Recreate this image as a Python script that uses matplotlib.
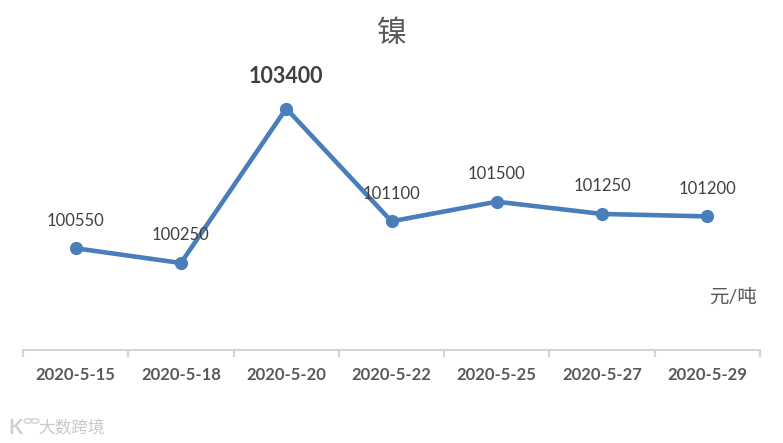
import matplotlib
matplotlib.use('Agg')
import matplotlib.pyplot as plt
from matplotlib.patches import Circle

dates = ['2020-5-15', '2020-5-18', '2020-5-20', '2020-5-22', '2020-5-25', '2020-5-27', '2020-5-29']
prices = [100550, 100250, 103400, 101100, 101500, 101250, 101200]

plt.rcParams['font.family'] = ['Lato', 'Noto Sans CJK SC', 'DejaVu Sans']

W, H = 783, 443
fig = plt.figure(figsize=(W / 100, H / 100), dpi=100)
fig.patch.set_facecolor('white')
ax = fig.add_axes([23 / W, 1 - 350 / H, (760 - 23) / W, 290 / H])

x = list(range(len(dates)))
ax.plot(x, prices, color='#4a7ebb', lw=3.3, marker='o', ms=8.5, solid_capstyle='round', zorder=3)

ax.set_xlim(-0.5, 6.5)
ax.set_ylim(98476, 104389)
ax.set_yticks([])
ax.set_xticks(x)
ax.set_xticklabels(dates, fontsize=12, fontweight='bold', color='#595959')
ax.set_xticks([i - 0.5 for i in range(8)], minor=True)
ax.tick_params(axis='x', which='major', length=0, pad=12)
ax.tick_params(axis='x', which='minor', length=5, width=1.5, color='#d4d4d4')

for s in ['top', 'right', 'left']:
    ax.spines[s].set_visible(False)
ax.spines['bottom'].set_color('#d4d4d4')
ax.spines['bottom'].set_linewidth(1.5)

for i, p in enumerate(prices):
    if p == max(prices):
        ax.annotate(str(p), (i, p), xytext=(0, 23), textcoords='offset points', ha='center',
                    va='center', fontsize=15.5, fontweight='bold', color='#404040')
    else:
        ax.annotate(str(p), (i, p), xytext=(0, 20), textcoords='offset points',
                    ha='center', va='center', fontsize=12, color='#404040')

fig.text(392 / W, 1 - 33 / H, '镍', fontsize=21.5, color='#595959', ha='center', va='center')
fig.text(733 / W, 1 - 297 / H, '元/吨', fontsize=14, color='#595959', ha='center', va='center')

# watermark
fig.text(72 / W, 1 - 428 / H, '大数跨境', fontsize=12, color='#c8c8c8', ha='center', va='center')
fig.text(16 / W, 1 - 428 / H, 'K', fontsize=15, fontweight='bold', color='#d0d0d0', ha='center', va='center')
for cx in [28, 35]:
    fig.add_artist(Circle((cx / W, 1 - 421 / H), 0.005, transform=fig.transFigure, fill=False,
                          ec='#d0d0d0', lw=1))

fig.savefig('out.png', dpi=100)
